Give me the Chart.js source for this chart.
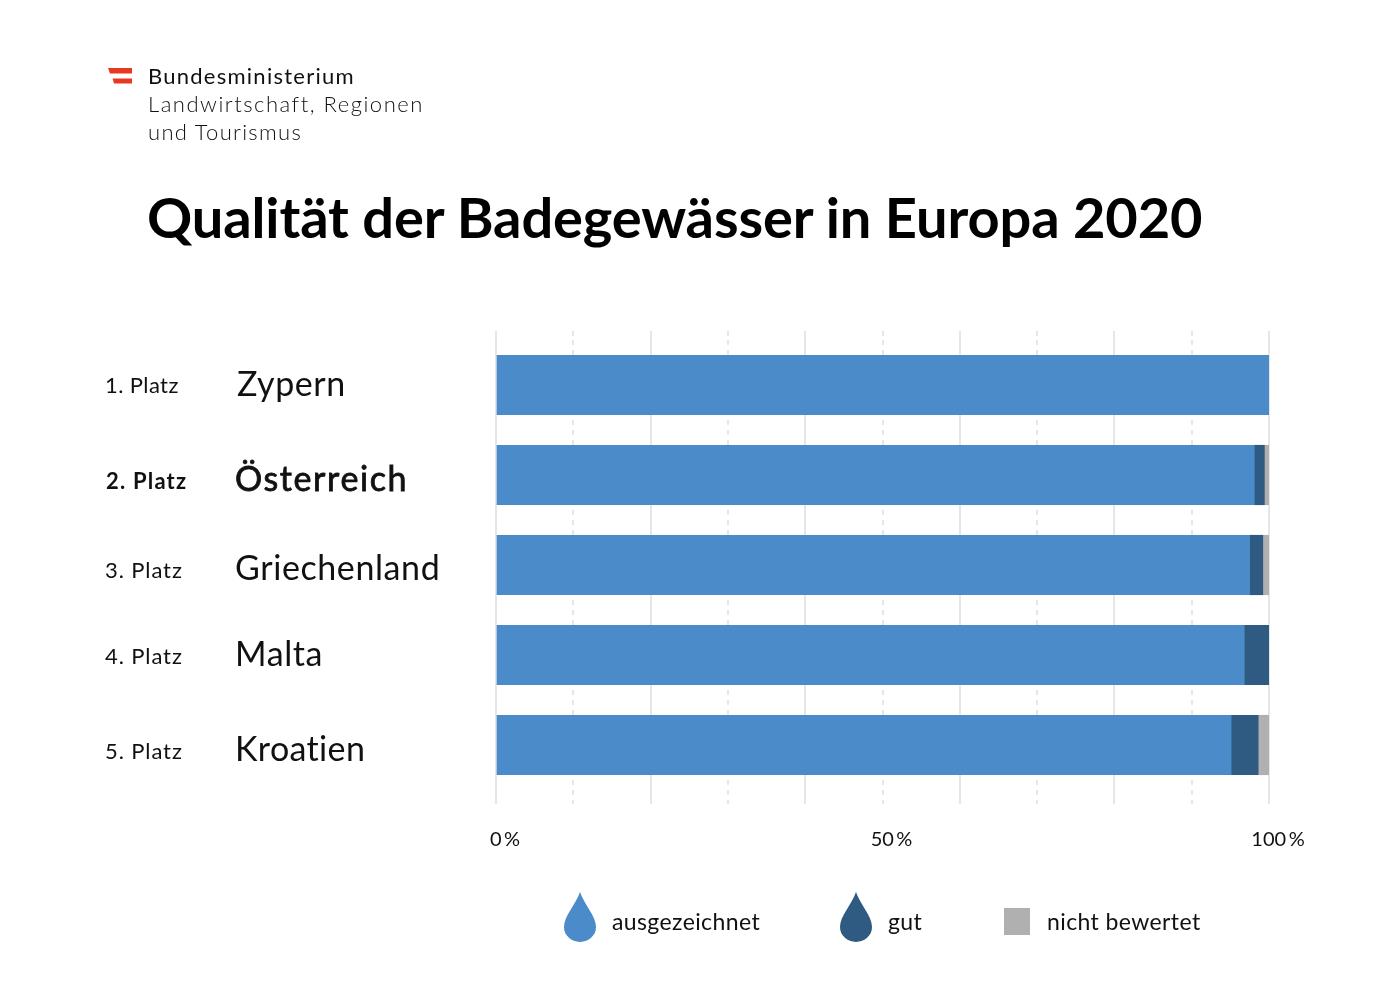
<!DOCTYPE html>
<html lang="de">
<head>
<meta charset="utf-8">
<title>Qualität der Badegewässer in Europa 2020</title>
<script src="https://cdn.jsdelivr.net/npm/chart.js@4/dist/chart.umd.js"></script>
<style>
  html, body { margin: 0; background: #fff; }
  body { position: relative; width: 1400px; height: 989px; overflow: hidden; font-family: Lato, sans-serif; color: #111; }
  #chart { position: absolute; left: 0; top: 0; }
  .abs { position: absolute; white-space: nowrap; }
  .ministry { left: 148px; font-size: 22px; line-height: 28px; letter-spacing: 1.4px; font-weight: 300; }
  #title { left: 147px; top: 182px; font-size: 56px; line-height: 70px; font-weight: 700; color: #000; letter-spacing: -0.12px; }
  .legend-text { top: 906px; font-size: 23px; line-height: 30px; letter-spacing: 0.4px; }
</style>
</head>
<body>
<canvas id="chart" width="1400" height="989"></canvas>

<svg class="abs" style="left:104px;top:64px" width="32" height="24">
  <polygon points="4,4 28,4 28,9.4 6,9.4" fill="#e6391f"/>
  <polygon points="8.6,14.4 28,14.4 28,19.4 10,19.4" fill="#e6391f"/>
</svg>
<div class="abs ministry" style="top:62px;font-weight:400;letter-spacing:1.25px">Bundesministerium</div>
<div class="abs ministry" style="top:90px;letter-spacing:1.52px">Landwirtschaft, Regionen</div>
<div class="abs ministry" style="top:118px;letter-spacing:1.3px">und Tourismus</div>
<div class="abs" id="title">Qualität der Badegewässer in Europa 2020</div>

<svg class="abs" style="left:560px;top:888px" width="40" height="56">
  <path d="M20 4 C16 16 4 28 4 39 A16 15 0 0 0 36 39 C36 28 24 16 20 4 Z" fill="#4b8bca"/>
</svg>
<div class="abs legend-text" id="legend-0" style="left:612px"></div>
<svg class="abs" style="left:836px;top:888px" width="40" height="56">
  <path d="M20 4 C16 16 4 28 4 39 A16 15 0 0 0 36 39 C36 28 24 16 20 4 Z" fill="#2f5b82"/>
</svg>
<div class="abs legend-text" id="legend-1" style="left:888px"></div>
<div class="abs" style="left:1004px;top:908px;width:26px;height:27px;background:#b0b0b0"></div>
<div class="abs legend-text" id="legend-2" style="left:1047px"></div>

<script>
const ranks = ['1. Platz', '2. Platz', '3. Platz', '4. Platz', '5. Platz'];
const countries = ['Zypern', 'Österreich', 'Griechenland', 'Malta', 'Kroatien'];
const seriesNames = ['ausgezeichnet', 'gut', 'nicht bewertet'];
const excellent = [100, 98.1, 97.5, 96.8, 95.1];
const good = [0, 1.3, 1.7, 3.2, 3.5];
const notRated = [0, 0.6, 0.8, 0, 1.4];
const axisTickLabels = { 0: '0\u2009%', 50: '50\u2009%', 100: '100\u2009%' };

const highlighted = 'Österreich';
const gridColor = '#e6e6e6';

seriesNames.forEach((name, i) => {
  document.getElementById('legend-' + i).textContent = name;
});

// rank and country labels sit a little off the bar centres in the original
const rankNudge = [1, 7, 6, 2, 7];
const countryNudge = [0, 5, 4, 0, 5];
const countryLeft = [237, 235, 235, 235, 235];
const rankSpacing = [0.4, 1.2, 0.9, 0.9, 0.9];
const countrySpacing = [0.6, 1.6, 0.6, 0.6, 0.35];

const rowLabels = {
  id: 'rowLabels',
  afterDraw(chart) {
    const ctx = chart.ctx;
    const yScale = chart.scales.y;
    ctx.save();
    ctx.textBaseline = 'middle';
    ctx.textAlign = 'left';
    ctx.fillStyle = '#111';
    ctx.strokeStyle = '#111';
    countries.forEach((country, i) => {
      const y = yScale.getPixelForValue(i);
      const isOwn = country === highlighted;
      ctx.font = (isOwn ? 700 : 400) + ' 22px Lato';
      ctx.letterSpacing = rankSpacing[i] + 'px';
      ctx.fillText(ranks[i], isOwn ? 106 : 105, y + rankNudge[i]);
      ctx.font = '400 34px Lato';
      ctx.letterSpacing = countrySpacing[i] + 'px';
      ctx.fillText(country, countryLeft[i], y + countryNudge[i]);
      if (isOwn) {
        // the original uses a medium cut here
        ctx.lineWidth = 0.8;
        ctx.strokeText(country, countryLeft[i], y + countryNudge[i]);
      }
    });
    ctx.restore();
  }
};

// solid every 20 %, dashed in between; ticks carry the lines past the plot area
const isSolid = (c) => c.tick && c.tick.value % 20 === 0;
const gridFor = {
  color: gridColor,
  tickColor: gridColor,
  lineWidth: 2,
  tickWidth: 2,
  tickBorderDash: (c) => isSolid(c) ? [] : [5, 5]
};
const borderFor = {
  display: false,
  dash: (c) => isSolid(c) ? [] : [5, 5]
};

new Chart(document.getElementById('chart'), {
  type: 'bar',
  data: {
    labels: countries,
    datasets: [
      { label: seriesNames[0], data: excellent, backgroundColor: '#4b8bca' },
      { label: seriesNames[1], data: good, backgroundColor: '#2f5b82' },
      { label: seriesNames[2], data: notRated, backgroundColor: '#b0b0b0' }
    ]
  },
  options: {
    indexAxis: 'y',
    responsive: false,
    animation: false,
    layout: { padding: { left: 496, right: 131, top: 331, bottom: 139 } },
    datasets: { bar: { barThickness: 59.5 } },
    plugins: { legend: { display: false }, tooltip: { enabled: false } },
    scales: {
      x: {
        stacked: true,
        min: 0,
        max: 100,
        border: borderFor,
        grid: { ...gridFor, tickLength: 14 },
        afterFit(scale) { scale.height = 60; },
        ticks: {
          stepSize: 10,
          autoSkip: false,
          maxRotation: 0,
          padding: 24,
          labelOffset: 9,
          color: '#111',
          font: { family: 'Lato', size: 20 },
          callback: (v) => axisTickLabels[v] || ''
        }
      },
      xTop: {
        type: 'linear',
        position: 'top',
        min: 0,
        max: 100,
        border: { display: false },
        grid: { ...gridFor, drawOnChartArea: false, tickLength: 9 },
        afterFit(scale) { scale.height = 9; },
        ticks: { stepSize: 10, autoSkip: false, padding: 0, display: true, font: { size: 1 }, callback: () => '' }
      },
      y: { stacked: true, display: false }
    }
  },
  plugins: [rowLabels]
});
</script>
</body>
</html>
